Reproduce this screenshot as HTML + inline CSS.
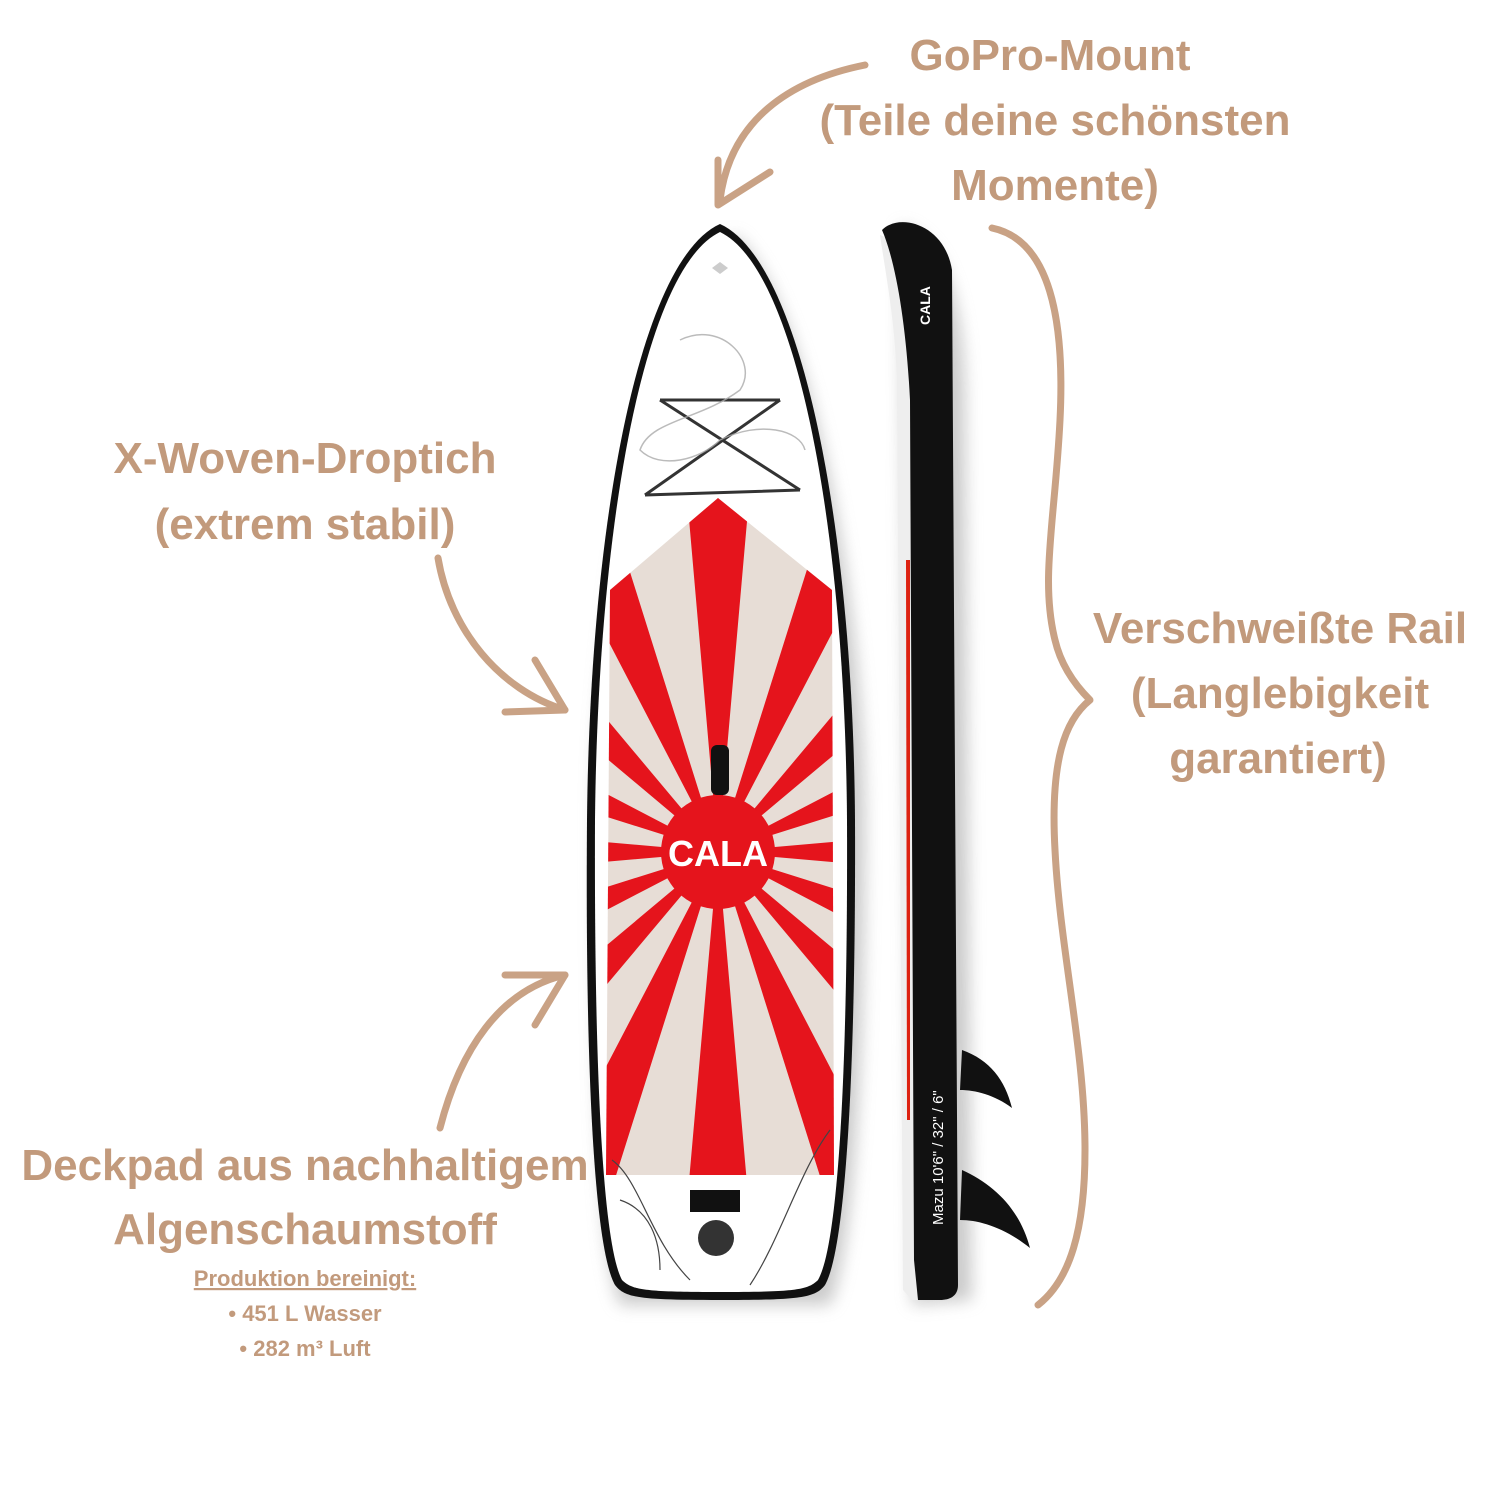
<!DOCTYPE html>
<html><head><meta charset="utf-8"><style>
body{margin:0;background:#fff;}
svg{display:block}
text{font-family:"Liberation Sans",sans-serif;fill:#c29a7c;font-weight:bold;}
</style></head><body>
<svg width="1500" height="1500" viewBox="0 0 1500 1500">
<defs>
<clipPath id="pad"><path d="M718,498 L832,590 L834,1175 L606,1175 L610,590 Z"/></clipPath>
<filter id="sh" x="-20%" y="-5%" width="140%" height="110%"><feGaussianBlur stdDeviation="8"/></filter>
</defs>
<path d="M735,235 C810,300 865,600 865,820 C865,1100 850,1260 830,1305 L620,1305 C600,1260 595,1100 595,820 C595,600 650,300 735,235Z" fill="#999" opacity="0.5" filter="url(#sh)"/>
<path d="M720,224 C800,260 853,520 855,820 C856,1080 845,1250 825,1285 C815,1298 800,1300 720,1300 C640,1300 625,1298 615,1285 C595,1250 585,1080 587,820 C590,520 640,260 720,224Z" fill="#111"/>
<path d="M720,232 C795,268 845,520 847,820 C848,1075 838,1245 818,1280 C808,1290 795,1292 720,1292 C645,1292 632,1290 622,1280 C603,1245 594,1075 595,820 C598,520 645,268 720,232Z" fill="#fff"/>
<path d="M718,498 L832,590 L834,1175 L606,1175 L610,590 Z" fill="#e7ddd6"/>
<g clip-path="url(#pad)">
<circle cx="718" cy="852" r="400" fill="none" stroke="#e5141c" stroke-width="800" stroke-dasharray="70 87.08" stroke-dashoffset="35" transform="rotate(-90 718 852)"/>
</g>
<circle cx="718" cy="852" r="57" fill="#e5141c"/>
<text x="718" y="866" text-anchor="middle" font-size="36" style="fill:#fff">CALA</text>
<rect x="711" y="745" width="18" height="50" rx="6" fill="#111"/>
<g stroke="#333" stroke-width="3" fill="none">
<path d="M660,400 L780,400 M645,495 L800,490 M660,400 L800,490 M780,400 L645,495"/>
</g>
<g stroke="#aaa" fill="none" stroke-width="1.5" opacity="0.8">
<path d="M680,340 C720,320 760,360 740,390 C700,420 650,420 640,450 C660,470 700,460 720,440 C760,420 800,430 805,450"/>
</g>
<path d="M712,268 l8,-6 l8,6 l-8,6z" fill="#ccc"/>
<rect x="690" y="1190" width="50" height="22" fill="#111"/>
<circle cx="716" cy="1238" r="18" fill="#333"/>
<g stroke="#444" fill="none" stroke-width="1.2"><path d="M612,1160 C640,1180 650,1240 690,1280 M830,1130 C800,1170 780,1240 750,1285 M620,1200 C650,1210 660,1240 660,1270"/></g>
<path d="M900,225 C945,240 965,300 965,400 L972,1300 L912,1305 Z" fill="#999" opacity="0.5" filter="url(#sh)"/>
<path d="M962,1050 C990,1060 1005,1080 1012,1108 C995,1095 975,1090 960,1090 Z" fill="#111"/>
<path d="M962,1170 C995,1185 1020,1210 1030,1248 C1005,1228 980,1220 960,1220 Z" fill="#111"/>
<path d="M880,235 C885,270 895,320 897,380 L903,1290 L912,1300 L918,1300 L918,300 C910,260 895,240 880,235Z" fill="#eee"/>
<path d="M882,230 C900,212 945,225 952,270 L958,1285 C958,1296 950,1300 940,1300 L918,1300 L914,1260 L910,400 C906,320 895,260 882,230Z" fill="#111"/>
<path d="M906,560 L910,560 L910,1120 L907,1120Z" fill="#d21" stroke="#fff" stroke-dasharray="40 20" stroke-width="0"/>
<text transform="translate(943,1225) rotate(-90)" font-size="15" style="fill:#fff;font-weight:normal">Mazu 10'6" / 32" / 6"</text>
<text transform="translate(930,325) rotate(-90)" font-size="14" style="fill:#fff">CALA</text>
<g stroke="#c9a285" stroke-width="7" fill="none" stroke-linecap="round" stroke-linejoin="round">
<path d="M865,65 C790,80 730,120 720,200"/>
<path d="M718,160 L718,205 L770,172"/>
<path d="M438,558 C450,630 500,690 565,710"/>
<path d="M535,660 L565,710 L505,712"/>
<path d="M440,1128 C460,1050 500,990 565,975"/>
<path d="M505,975 L565,975 L535,1025"/>
<path d="M992,228 C1050,240 1065,320 1060,420 C1055,520 1040,580 1055,640 C1062,670 1080,690 1090,700 C1065,720 1050,760 1055,850 C1060,950 1085,1050 1085,1150 C1085,1230 1070,1280 1038,1305"/>
</g>
<g font-size="44" text-anchor="middle">
<text x="1050" y="70">GoPro-Mount</text>
<text x="1055" y="135">(Teile deine schönsten</text>
<text x="1055" y="200">Momente)</text>
<text x="305" y="473">X-Woven-Droptich</text>
<text x="305" y="539">(extrem stabil)</text>
<text x="1280" y="643">Verschweißte Rail</text>
<text x="1280" y="708">(Langlebigkeit</text>
<text x="1278" y="773">garantiert)</text>
<text x="305" y="1180">Deckpad aus nachhaltigem</text>
<text x="305" y="1244">Algenschaumstoff</text>
</g>
<g font-size="22" text-anchor="middle">
<text x="305" y="1286" text-decoration="underline">Produktion bereinigt:</text>
<text x="305" y="1321">• 451 L Wasser</text>
<text x="305" y="1356">• 282 m³ Luft</text>
</g>
</svg>
</body></html>
